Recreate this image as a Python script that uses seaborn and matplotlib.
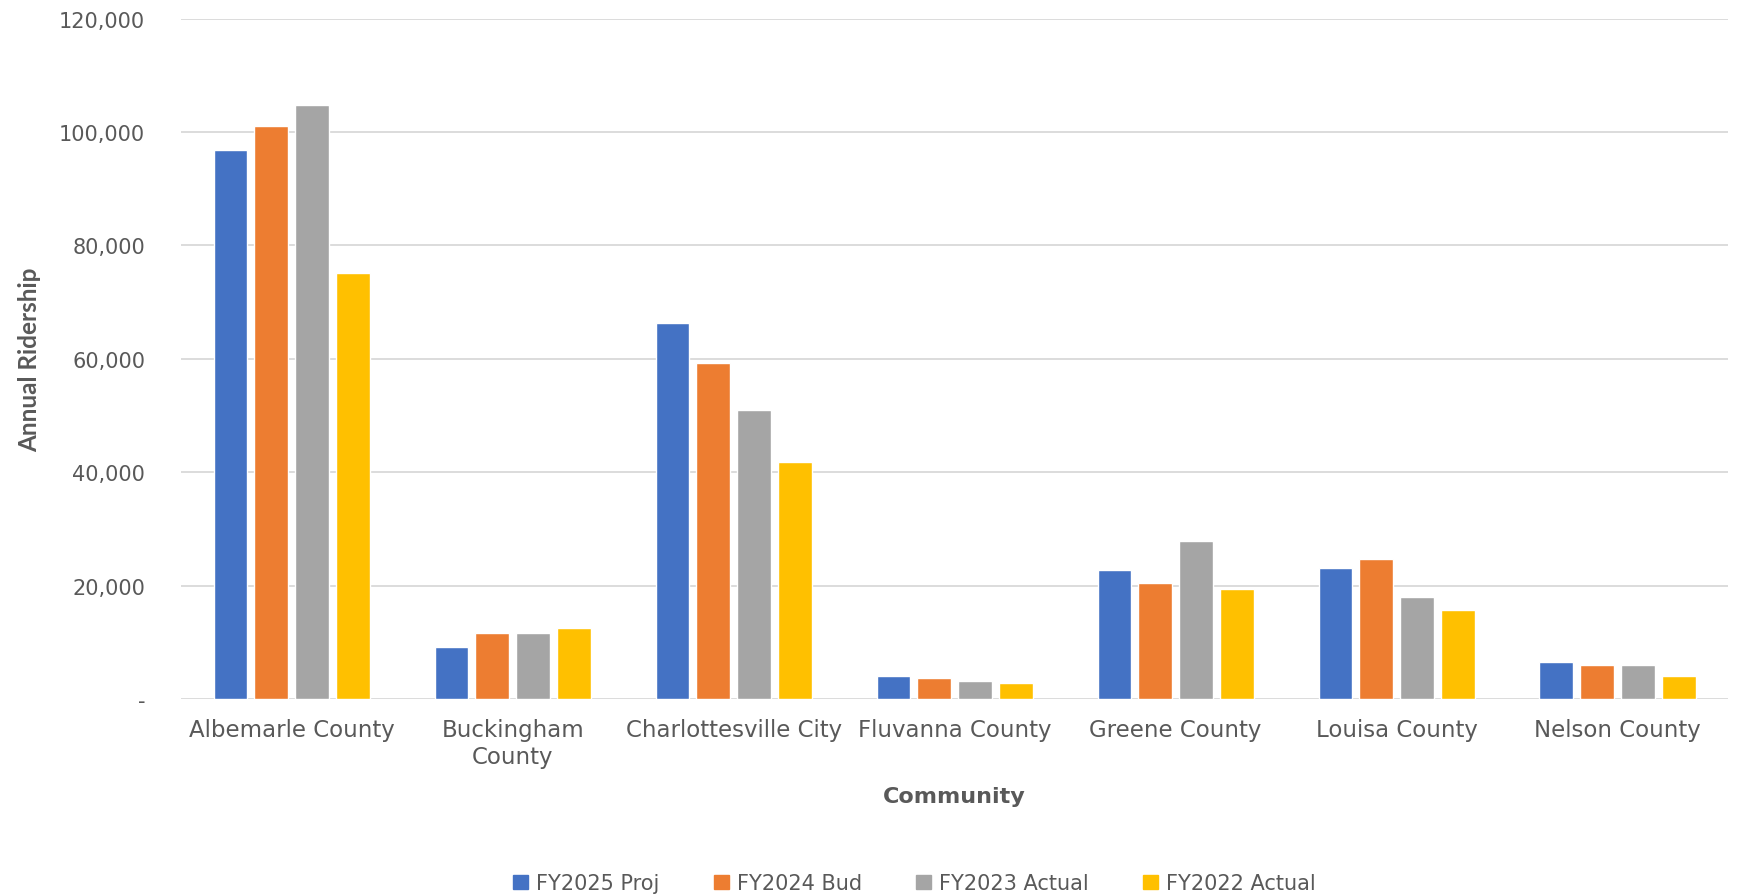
import pandas as pd
import matplotlib
matplotlib.use("Agg")
import matplotlib.pyplot as plt
from matplotlib.ticker import FuncFormatter, MultipleLocator
import seaborn as sns

communities = ["Albemarle County", "Buckingham\nCounty", "Charlottesville City",
               "Fluvanna County", "Greene County", "Louisa County", "Nelson County"]
series = ["FY2025 Proj", "FY2024 Bud", "FY2023 Actual", "FY2022 Actual"]
fy2025_proj = [96900, 9200, 66300, 4100, 22750, 23100, 6450]
fy2024_bud = [101000, 11550, 59200, 3700, 20400, 24700, 5900]
fy2023_actual = [104700, 11550, 51000, 3100, 27850, 18000, 5900]
fy2022_actual = [75100, 12550, 41800, 2750, 19400, 15700, 4100]
colors = ["#4472C4", "#ED7D31", "#A5A5A5", "#FFC000"]

rows = []
for name, vals in zip(series, [fy2025_proj, fy2024_bud, fy2023_actual, fy2022_actual]):
    for c, v in zip(communities, vals):
        rows.append({"Community": c, "Series": name, "Ridership": v})
df = pd.DataFrame(rows)

sns.set_theme(style="white")
plt.rcParams["font.family"] = ["DejaVu Sans"]
text_color = "#595959"

fig = plt.figure(figsize=(17.42, 8.95), dpi=100)
ax = fig.add_axes([0.104, 0.218, 0.888, 0.76])

sns.barplot(data=df, x="Community", y="Ridership", hue="Series", order=communities,
            hue_order=series, palette=colors, width=0.74, gap=0.18, saturation=1,
            ax=ax, legend=True)

ax.set_ylim(0, 120000)
ax.set_xlim(-0.5, 6.5)
ax.yaxis.set_major_locator(MultipleLocator(20000))
ax.yaxis.set_major_formatter(FuncFormatter(lambda v, p: "-" if v == 0 else f"{v:,.0f}"))
ax.grid(axis="y", color="#d9d9d9", linewidth=1.3)
ax.set_axisbelow(True)
for s in ax.spines.values():
    s.set_visible(False)
ax.tick_params(axis="x", length=0, labelsize=16.5, colors=text_color, pad=14)
ax.tick_params(axis="y", length=0, labelsize=15, colors=text_color, pad=26)

ax.set_xlabel("Community", fontsize=16, fontweight="bold", color=text_color, labelpad=13)
ax.set_ylabel("Annual Ridership", fontsize=17.5, fontweight="bold", color=text_color,
              family=["Lato", "DejaVu Sans"], labelpad=13)

ax.legend_.remove()
handles = [plt.Rectangle((0, 0), 1, 1, color=c) for c in colors]
fig.legend(handles, series, loc="lower center", bbox_to_anchor=(0.525, -0.02), ncol=4,
           frameon=False, fontsize=15, handlelength=0.7, handleheight=0.7,
           columnspacing=2.6, handletextpad=0.4, labelcolor=text_color)

fig.savefig("out.png", dpi=100)
